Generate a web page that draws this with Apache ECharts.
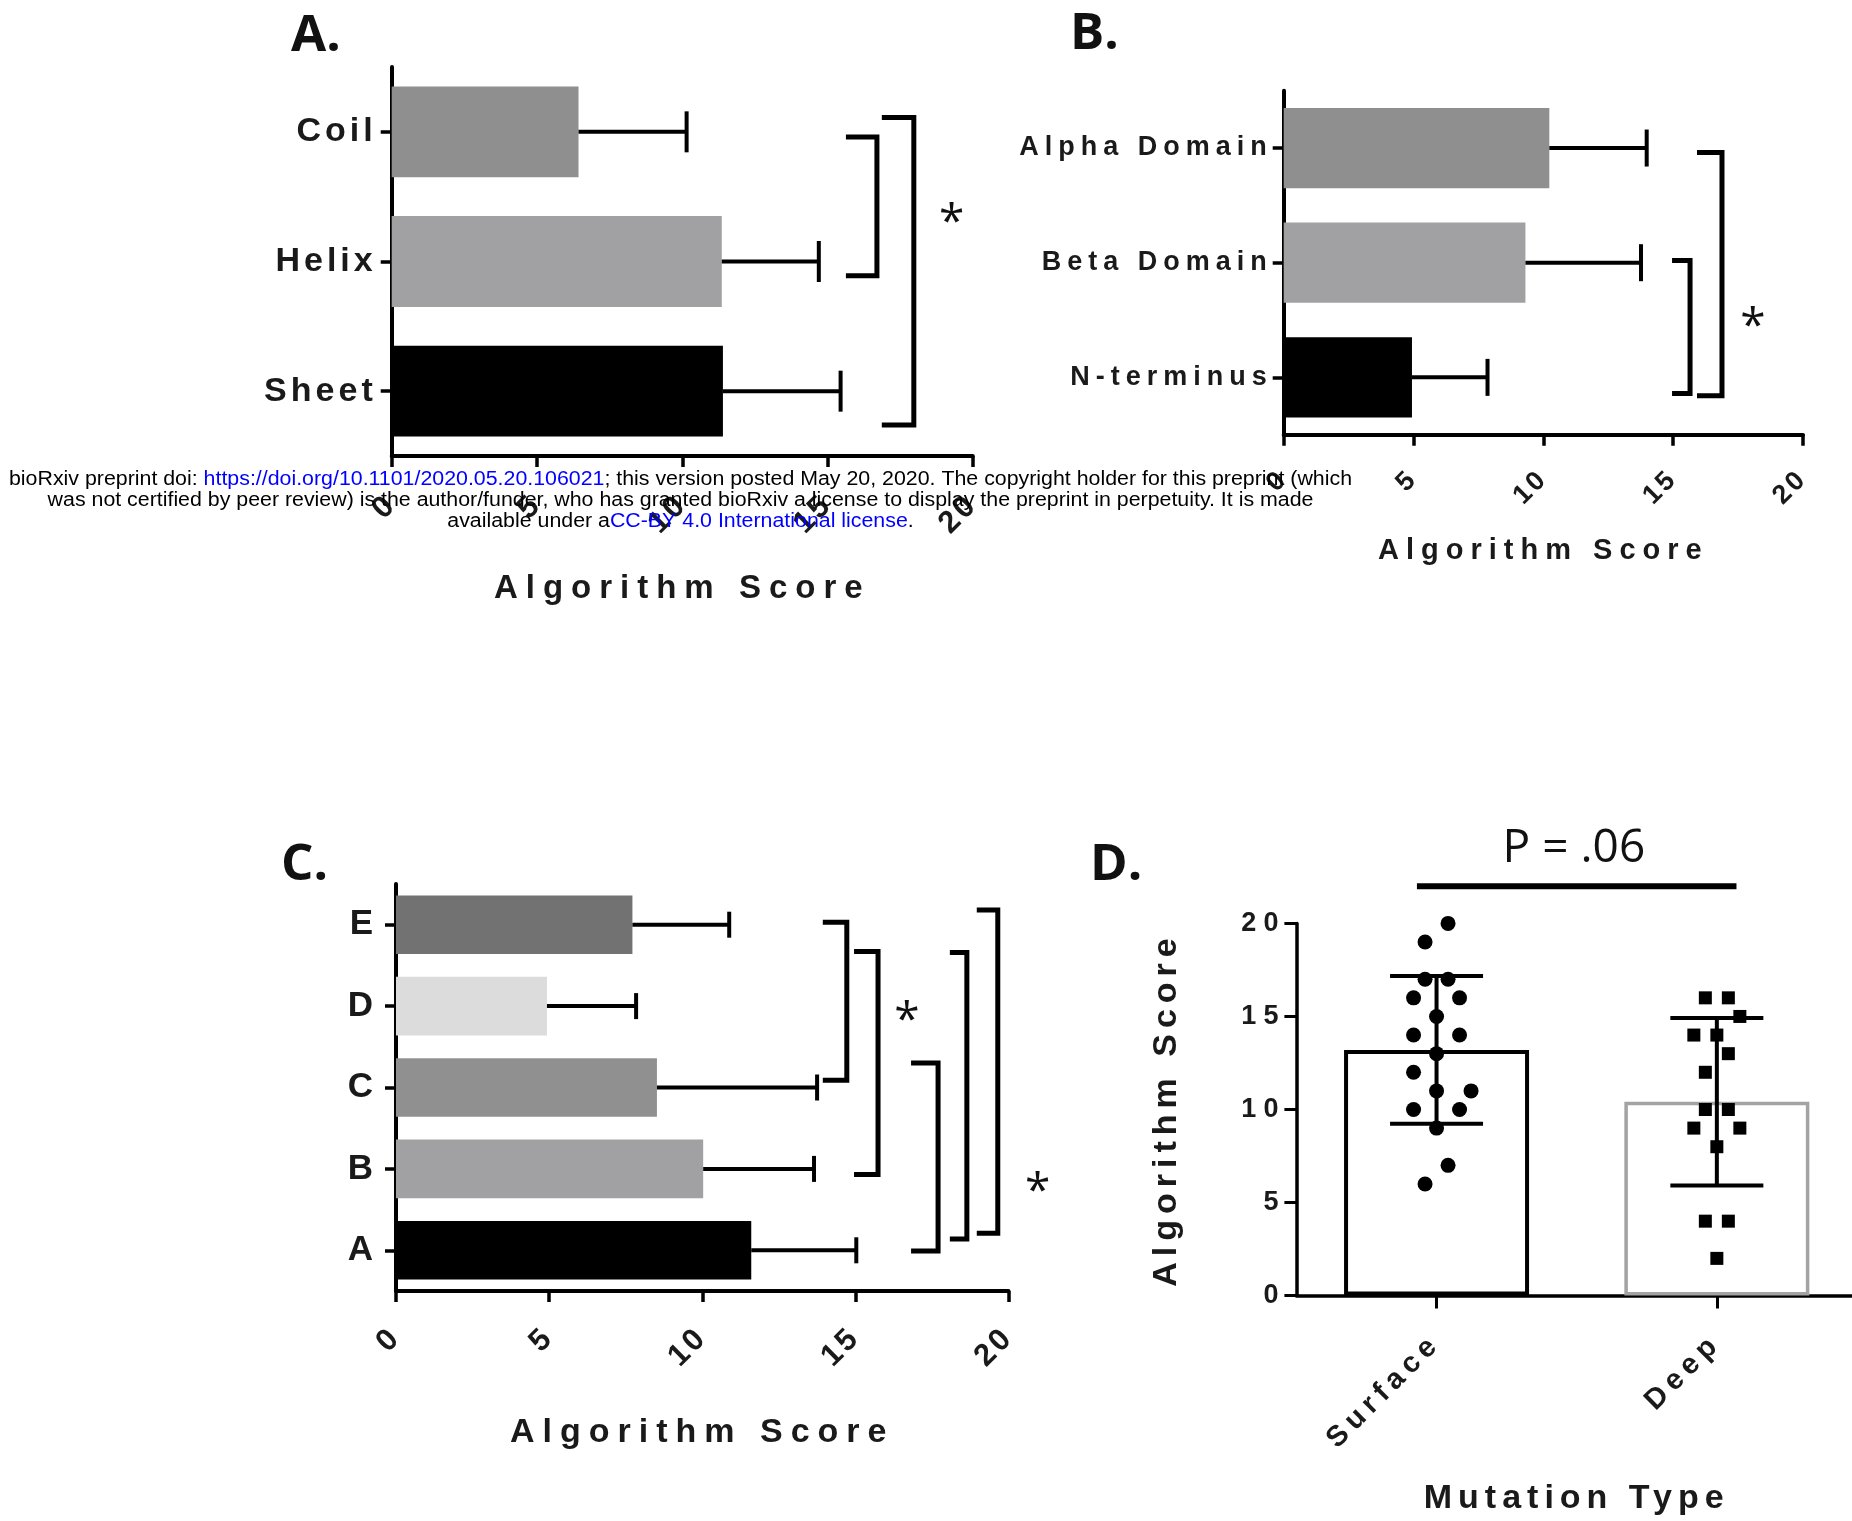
<!DOCTYPE html>
<html><head><meta charset="utf-8">
<script src="https://cdn.jsdelivr.net/npm/echarts@6/dist/echarts.min.js"></script>
<style>html,body{margin:0;padding:0;background:#fff}#c{width:1852px;height:1521px}</style>
</head><body><div id="c"></div>
<script>
// ---------------- data ----------------
const catsA = ['Coil', 'Helix', 'Sheet'];
const meanA = [6.43, 11.36, 11.40];
const sdA   = [3.72, 3.34, 4.05];

const catsB = ['Alpha Domain', 'Beta Domain', 'N-terminus'];
const meanB = [10.23, 9.31, 4.94];
const sdB   = [3.75, 4.45, 2.91];

const catsC = ['E', 'D', 'C', 'B', 'A'];
const meanC = [7.72, 4.93, 8.52, 10.03, 11.60];
const sdC   = [3.16, 2.91, 5.23, 3.62, 3.43];

const catsD = ['Surface', 'Deep'];
const meanD = [13.20, 10.42];
const sdD   = [3.97, 4.50];
const surfacePoints = [20, 19, 17, 17, 16, 16, 15, 14, 14, 13, 12, 11, 11, 10, 10, 9, 7, 6];
const surfaceSlots  = [1, -1, -1, 1, -2, 2, 0, -2, 2, 0, -2, 0, 3, -2, 2, 0, 1, -1];
const deepPoints    = [16, 16, 15, 14, 14, 13, 12, 10, 10, 9, 9, 8, 4, 4, 2];
const deepSlots     = [-1, 1, 2, -2, 0, 1, -1, -1, 1, -2, 2, 0, -1, 1, 0];

const scoreMin = 0, scoreMax = 20, scoreStep = 5;
const scoreName = 'Algorithm Score';
const mutationName = 'Mutation Type';

// significance brackets: [score value, from category position, to category position]
const bracketsA = [[16.70, 0.04, 1.11], [17.97, -0.11, 2.26]];
const starsA    = [[19.27, 0.63]];
const bracketsB = [[15.65, 0.98, 2.14], [16.88, 0.04, 2.16]];
const starsB    = [[18.07, 1.48]];
const bracketsC = [[14.72, -0.03, 1.91], [15.74, 0.33, 3.07], [17.70, 1.70, 4.01], [18.64, 0.34, 3.86], [19.65, -0.18, 3.79]];
const starsC    = [[16.68, 1.07], [20.95, 3.17]];
const pLineD = [-0.07, 1.07, 22.0];     // from cat pos, to cat pos, score
const pTextD = ['P = .06', 0.49, 24.0]; // text, cat pos, score

const panelLetters = ['A.', 'B.', 'C.', 'D.'];
const watermark = [
  [['bioRxiv preprint doi: ', 0], ['https://doi.org/10.1101/2020.05.20.106021', 1], ['; this version posted May 20, 2020. The copyright holder for this preprint (which', 0]],
  [['was not certified by peer review) is the author/funder, who has granted bioRxiv a license to display the preprint in perpetuity. It is made', 0]],
  [['available under a', 0], ['CC-BY 4.0 International license', 1], ['.', 0]]
];

// ---------------- styles ----------------
const colorsA = ['#8f8f8f', '#a1a1a4', '#000000'];
const colorsB = ['#8f8f8f', '#a1a1a4', '#000000'];
const colorsC = ['#727272', '#dcdcdc', '#909090', '#a1a1a4', '#000000'];
const armsA = [31, 32];
const armsB = [18, 25];
const armsC = [24, 24, 27, 17, 21];
const JIT = 11.5;
const TXT = '#1a1a1a';

// letter spacing support (GraphPad style spaced text): family marker spNx
(function () {
  const P = CanvasRenderingContext2D.prototype;
  const orig = P.fillText;
  P.fillText = function (t, x, y, mw) {
    const m = /sp(\d+)x/.exec(this.font);
    const want = m ? m[1] + 'px' : '0px';
    if ('letterSpacing' in this && this.letterSpacing !== want) this.letterSpacing = want;
    return mw === undefined ? orig.call(this, t, x, y) : orig.call(this, t, x, y, mw);
  };
})();
const F = sp => '"Liberation Sans", sp' + sp + 'x';

function valueXAxis(gi, lblSize, lblSp, nameSize, nameSp, nameGap, margin) {
  return {
    type: 'value', gridIndex: gi, min: scoreMin, max: scoreMax, interval: scoreStep,
    axisLine: { show: true, onZero: false, lineStyle: { color: '#000', width: 4 } },
    axisTick: { show: true, length: 11, lineStyle: { color: '#000', width: 3.5 } },
    splitLine: { show: false },
    axisLabel: { show: true, rotate: 45, margin: margin, showMinLabel: true, showMaxLabel: true,
      fontSize: lblSize, fontWeight: 'bold', fontFamily: F(lblSp), color: TXT },
    name: scoreName, nameLocation: 'middle', nameGap: nameGap,
    nameTextStyle: { fontSize: nameSize, fontWeight: 'bold', fontFamily: F(nameSp), color: TXT }
  };
}
function catYAxis(gi, data, size, sp, margin) {
  return {
    type: 'category', gridIndex: gi, data: data, inverse: true,
    axisLine: { show: true, onZero: false, lineStyle: { color: '#000', width: 4 } },
    axisTick: { show: true, alignWithLabel: true, length: 11, lineStyle: { color: '#000', width: 3.5 } },
    splitLine: { show: false },
    axisLabel: { show: true, interval: 0, margin: margin, padding: [10, 0, 0, 0],
      fontSize: size, fontWeight: 'bold', fontFamily: F(sp), color: TXT }
  };
}
function hBars(gi, means, colors, gap) {
  return { type: 'bar', xAxisIndex: gi, yAxisIndex: gi, barCategoryGap: gap, silent: true, z: 2,
    data: means.map((v, i) => ({ value: v, itemStyle: { color: colors[i] } })) };
}
function hErr(gi, means, sds, capH) {
  return { type: 'custom', xAxisIndex: gi, yAxisIndex: gi, silent: true, clip: false, z: 3,
    data: means.map((m, i) => [m + sds[i], i]),
    renderItem: function (params, api) {
      const i = params.dataIndex;
      const p0 = api.coord([means[i], i]), p1 = api.coord([means[i] + sds[i], i]);
      return { type: 'group', children: [
        { type: 'line', shape: { x1: p0[0], y1: p0[1], x2: p1[0], y2: p1[1] }, style: { stroke: '#000', lineWidth: 4 } },
        { type: 'line', shape: { x1: p1[0], y1: p1[1] - capH / 2, x2: p1[0], y2: p1[1] + capH / 2 }, style: { stroke: '#000', lineWidth: 4 } }
      ] };
    } };
}
function bracketSeries(gi, list, arms) {
  return { type: 'custom', xAxisIndex: gi, yAxisIndex: gi, silent: true, clip: false, z: 3,
    data: list.map(b => [b[0], 0]),
    renderItem: function (params, api) {
      const b = list[params.dataIndex], arm = arms[params.dataIndex];
      const c0 = api.coord([b[0], 0]), c1 = api.coord([b[0], 1]);
      const band = c1[1] - c0[1];
      const ya = c0[1] + b[1] * band, yb = c0[1] + b[2] * band, x = c0[0];
      return { type: 'polyline', shape: { points: [[x - arm, ya], [x, ya], [x, yb], [x - arm, yb]] },
        style: { stroke: '#000', lineWidth: 5, fill: null, lineJoin: 'miter' } };
    } };
}
function starSeries(gi, list, size) {
  return { type: 'custom', xAxisIndex: gi, yAxisIndex: gi, silent: true, clip: false, z: 3,
    data: list.map(s => [s[0], 0]),
    renderItem: function (params, api) {
      const s = list[params.dataIndex];
      const c0 = api.coord([s[0], 0]), c1 = api.coord([s[0], 1]);
      const y = c0[1] + s[1] * (c1[1] - c0[1]);
      return { type: 'text', x: c0[0], y: y + size * 0.22,
        style: { text: '*', font: size + 'px "Open Sans"', fill: '#111', align: 'center', verticalAlign: 'middle',
          textAlign: 'center', textVerticalAlign: 'middle' } };
    } };
}

// watermark scale to fit measured width of the first line
const WM_FONT = '20px "Liberation Sans"';
const mctx = document.createElement('canvas').getContext('2d');
mctx.font = WM_FONT;
const wmScale = 1343 / mctx.measureText(watermark[0].map(s => s[0]).join('')).width;
const wmY = [479, 500, 521];

const grids = [
  { left: 391.7, top: 67, width: 581.1, height: 389 },
  { left: 1283.7, top: 90.7, width: 519.3, height: 344 },
  { left: 396, top: 884, width: 612.5, height: 407 },
  { left: 1296.4, top: 923.4, width: 560.6, height: 372.2 }
].map(g => Object.assign({ containLabel: false, outerBoundsMode: 'none' }, g));

const letterPos = [[291, 11], [1070, 9], [281, 840], [1090, 840]];

const option = {
  backgroundColor: '#fff',
  animation: false,
  title: panelLetters.map((t, i) => ({ text: t, left: letterPos[i][0], top: letterPos[i][1], padding: 0,
    textStyle: { fontFamily: '"Open Sans"', fontWeight: 'bold', fontSize: 51, color: '#111' } })),
  grid: grids,
  xAxis: [
    valueXAxis(0, 31, 3, 33, 8, 116, 44),
    valueXAxis(1, 27, 3, 29, 7, 102, 40),
    valueXAxis(2, 31, 3, 34, 8, 125, 42),
    { type: 'category', gridIndex: 3, data: catsD,
      axisLine: { show: true, onZero: false, lineStyle: { color: '#000', width: 3.5 } },
      axisTick: { show: true, alignWithLabel: true, length: 13, lineStyle: { color: '#000', width: 3 } },
      splitLine: { show: false },
      axisLabel: { show: true, interval: 0, rotate: 45, margin: 43, fontSize: 29, fontWeight: 'bold', fontFamily: F(6), color: TXT },
      name: mutationName, nameLocation: 'middle', nameGap: 186,
      nameTextStyle: { fontSize: 34, fontWeight: 'bold', fontFamily: F(6), color: TXT } }
  ],
  yAxis: [
    catYAxis(0, catsA, 34, 4, 15),
    catYAxis(1, catsB, 27, 6, 11),
    catYAxis(2, catsC, 35, 0, 23),
    { type: 'value', gridIndex: 3, min: scoreMin, max: scoreMax, interval: scoreStep,
      axisLine: { show: true, onZero: false, lineStyle: { color: '#000', width: 3.5 } },
      axisTick: { show: true, length: 12, lineStyle: { color: '#000', width: 3 } },
      splitLine: { show: false },
      axisLabel: { show: true, margin: 11, showMinLabel: true, showMaxLabel: true, fontSize: 27, fontWeight: 'bold', fontFamily: F(7), color: TXT },
      name: scoreName, nameLocation: 'middle', nameRotate: 90, nameGap: 113,
      nameTextStyle: { fontSize: 34, fontWeight: 'bold', fontFamily: F(6), color: TXT } }
  ],
  series: [
    hBars(0, meanA, colorsA, '30%'), hErr(0, meanA, sdA, 41), bracketSeries(0, bracketsA, armsA), starSeries(0, starsA, 46),
    hBars(1, meanB, colorsB, '30%'), hErr(1, meanB, sdB, 37), bracketSeries(1, bracketsB, armsB), starSeries(1, starsB, 46),
    hBars(2, meanC, colorsC, '28%'), hErr(2, meanC, sdC, 26), bracketSeries(2, bracketsC, armsC), starSeries(2, starsC, 46),
    { type: 'bar', xAxisIndex: 3, yAxisIndex: 3, barCategoryGap: '34%', silent: true, z: 2,
      data: [
        { value: meanD[0], itemStyle: { color: '#fff', borderColor: '#000', borderWidth: 4 } },
        { value: meanD[1], itemStyle: { color: '#fff', borderColor: '#a3a3a3', borderWidth: 3.5 } }
      ] },
    { type: 'custom', xAxisIndex: 3, yAxisIndex: 3, silent: true, clip: false, z: 3,
      data: meanD.map((m, i) => [i, m + sdD[i]]),
      renderItem: function (params, api) {
        const i = params.dataIndex;
        const lo = api.coord([i, meanD[i] - sdD[i]]), hi = api.coord([i, meanD[i] + sdD[i]]);
        const cw = 46.5;
        const st = { stroke: '#000', lineWidth: 4 };
        return { type: 'group', children: [
          { type: 'line', shape: { x1: lo[0], y1: lo[1], x2: hi[0], y2: hi[1] }, style: st },
          { type: 'line', shape: { x1: lo[0] - cw, y1: lo[1], x2: lo[0] + cw, y2: lo[1] }, style: st },
          { type: 'line', shape: { x1: hi[0] - cw, y1: hi[1], x2: hi[0] + cw, y2: hi[1] }, style: st }
        ] };
      } },
    { type: 'scatter', xAxisIndex: 3, yAxisIndex: 3, symbol: 'circle', symbolSize: 15, silent: true, z: 4,
      itemStyle: { color: '#000', opacity: 1 },
      data: surfacePoints.map((v, i) => ({ value: [0, v], symbolOffset: [surfaceSlots[i] * JIT, 0] })) },
    { type: 'scatter', xAxisIndex: 3, yAxisIndex: 3, symbol: 'rect', symbolSize: 13, silent: true, z: 4,
      itemStyle: { color: '#000', opacity: 1 },
      data: deepPoints.map((v, i) => ({ value: [1, v], symbolOffset: [deepSlots[i] * JIT, 0] })) },
    { type: 'custom', xAxisIndex: 3, yAxisIndex: 3, silent: true, clip: false, z: 3,
      data: [[0, pLineD[2]]],
      renderItem: function (params, api) {
        const a = api.coord([0, pLineD[2]]), b = api.coord([1, pLineD[2]]);
        const w = b[0] - a[0];
        const t = api.coord([0, pTextD[2]]);
        return { type: 'group', children: [
          { type: 'line', shape: { x1: a[0] + pLineD[0] * w, y1: a[1], x2: a[0] + pLineD[1] * w, y2: a[1] },
            style: { stroke: '#000', lineWidth: 6 } },
          { type: 'text', x: a[0] + pTextD[1] * w, y: t[1],
            style: { text: pTextD[0], font: '46px "Open Sans"', fill: '#111', align: 'center', verticalAlign: 'middle',
              textAlign: 'center', textVerticalAlign: 'middle' } }
        ] };
      } }
  ],
  graphic: watermark.map((line, k) => ({
    type: 'text', x: 680.5, y: wmY[k], scaleX: wmScale, z: 100, silent: true,
    style: {
      text: line.map(s => '{' + (s[1] ? 'l' : 'n') + '|' + s[0] + '}').join(''),
      rich: { n: { fill: '#000', font: WM_FONT }, l: { fill: '#0000ff', font: WM_FONT } },
      font: WM_FONT, fill: '#000', align: 'center', verticalAlign: 'middle', textAlign: 'center', textVerticalAlign: 'middle'
    }
  }))
};

const chart = echarts.init(document.getElementById('c'), null, { renderer: 'canvas' });
chart.setOption(option);
</script>
</body></html>
